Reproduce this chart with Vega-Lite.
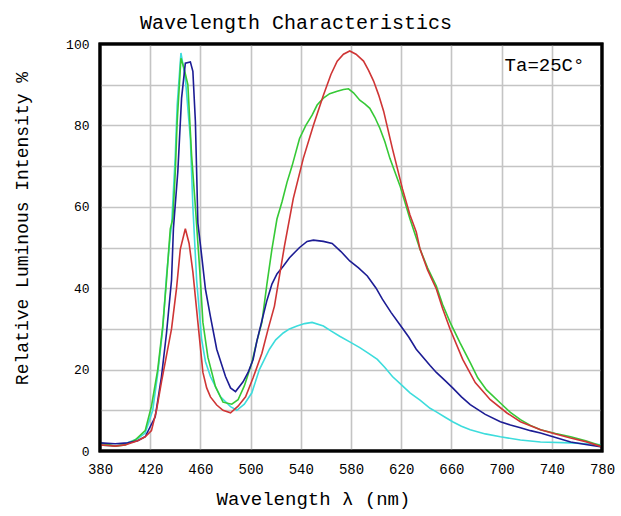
{
  "$schema": "https://vega.github.io/schema/vega-lite/v6.json",
  "width": 502,
  "height": 407,
  "autosize": {"type": "none"},
  "padding": {"left": 100, "top": 44, "right": 19, "bottom": 65},
  "background": "white",
  "view": {"stroke": "black", "strokeWidth": 3},
  "config": {
    "view": {"stroke": "black", "strokeWidth": 3},
    "font": "Liberation Mono"
  },
  "title": {
    "text": "Wavelength Characteristics",
    "font": "Liberation Mono",
    "fontSize": 20,
    "fontWeight": "normal",
    "color": "black",
    "dx": -55,
    "offset": 5
  },
  "datasets": {
    "curves": [
      {"s": "cyan", "x": 380, "y": 1.5}, {"s": "cyan", "x": 392, "y": 1.2}, {"s": "cyan", "x": 400, "y": 1.8}, {"s": "cyan", "x": 410, "y": 3}, {"s": "cyan", "x": 416, "y": 4.4}, {"s": "cyan", "x": 422, "y": 10}, {"s": "cyan", "x": 426, "y": 19}, {"s": "cyan", "x": 430, "y": 30}, {"s": "cyan", "x": 433, "y": 43}, {"s": "cyan", "x": 436, "y": 53}, {"s": "cyan", "x": 437, "y": 55.3}, {"s": "cyan", "x": 440, "y": 72.6}, {"s": "cyan", "x": 441.5, "y": 85}, {"s": "cyan", "x": 444.5, "y": 97.8}, {"s": "cyan", "x": 448, "y": 91.6}, {"s": "cyan", "x": 452, "y": 76.8}, {"s": "cyan", "x": 454, "y": 60}, {"s": "cyan", "x": 457, "y": 42}, {"s": "cyan", "x": 461, "y": 27.4}, {"s": "cyan", "x": 464, "y": 22}, {"s": "cyan", "x": 468, "y": 18.3}, {"s": "cyan", "x": 476, "y": 13.3}, {"s": "cyan", "x": 484, "y": 10.9}, {"s": "cyan", "x": 489, "y": 10}, {"s": "cyan", "x": 495, "y": 11.5}, {"s": "cyan", "x": 501, "y": 14.3}, {"s": "cyan", "x": 507, "y": 20}, {"s": "cyan", "x": 515, "y": 25}, {"s": "cyan", "x": 520, "y": 27.3}, {"s": "cyan", "x": 526, "y": 29}, {"s": "cyan", "x": 531, "y": 30}, {"s": "cyan", "x": 537, "y": 30.7}, {"s": "cyan", "x": 543, "y": 31.3}, {"s": "cyan", "x": 549, "y": 31.6}, {"s": "cyan", "x": 558, "y": 30.7}, {"s": "cyan", "x": 564, "y": 29.5}, {"s": "cyan", "x": 571, "y": 28.2}, {"s": "cyan", "x": 579, "y": 26.8}, {"s": "cyan", "x": 587, "y": 25.4}, {"s": "cyan", "x": 594, "y": 24}, {"s": "cyan", "x": 601, "y": 22.5}, {"s": "cyan", "x": 607, "y": 20.5}, {"s": "cyan", "x": 613, "y": 18.3}, {"s": "cyan", "x": 620, "y": 16.3}, {"s": "cyan", "x": 627, "y": 14.3}, {"s": "cyan", "x": 635, "y": 12.5}, {"s": "cyan", "x": 643, "y": 10.5}, {"s": "cyan", "x": 648, "y": 9.6}, {"s": "cyan", "x": 655, "y": 8.3}, {"s": "cyan", "x": 661, "y": 7.2}, {"s": "cyan", "x": 668, "y": 6.1}, {"s": "cyan", "x": 675, "y": 5.2}, {"s": "cyan", "x": 687, "y": 4.2}, {"s": "cyan", "x": 699, "y": 3.5}, {"s": "cyan", "x": 715, "y": 2.7}, {"s": "cyan", "x": 731, "y": 2.2}, {"s": "cyan", "x": 755, "y": 2}, {"s": "cyan", "x": 767, "y": 1.8}, {"s": "cyan", "x": 780, "y": 1.5},

      {"s": "green", "x": 380, "y": 2}, {"s": "green", "x": 392, "y": 1.2}, {"s": "green", "x": 400, "y": 1.5}, {"s": "green", "x": 408, "y": 2.7}, {"s": "green", "x": 416, "y": 5}, {"s": "green", "x": 421, "y": 11}, {"s": "green", "x": 426, "y": 20}, {"s": "green", "x": 430, "y": 30.7}, {"s": "green", "x": 433, "y": 42}, {"s": "green", "x": 436, "y": 54.6}, {"s": "green", "x": 438, "y": 57}, {"s": "green", "x": 440, "y": 68.6}, {"s": "green", "x": 441.5, "y": 81}, {"s": "green", "x": 444.5, "y": 96.5}, {"s": "green", "x": 447, "y": 94}, {"s": "green", "x": 450, "y": 90}, {"s": "green", "x": 453, "y": 72.6}, {"s": "green", "x": 456, "y": 60}, {"s": "green", "x": 460, "y": 42}, {"s": "green", "x": 462, "y": 31.6}, {"s": "green", "x": 466, "y": 23}, {"s": "green", "x": 472, "y": 15.8}, {"s": "green", "x": 478, "y": 12}, {"s": "green", "x": 485, "y": 11.5}, {"s": "green", "x": 490, "y": 12.6}, {"s": "green", "x": 495, "y": 16}, {"s": "green", "x": 501, "y": 21.7}, {"s": "green", "x": 505, "y": 27}, {"s": "green", "x": 509, "y": 31.6}, {"s": "green", "x": 513, "y": 41}, {"s": "green", "x": 517, "y": 49.6}, {"s": "green", "x": 521, "y": 57}, {"s": "green", "x": 525, "y": 61.2}, {"s": "green", "x": 529, "y": 66}, {"s": "green", "x": 533, "y": 70}, {"s": "green", "x": 539, "y": 76.8}, {"s": "green", "x": 544, "y": 80}, {"s": "green", "x": 549, "y": 82.5}, {"s": "green", "x": 553, "y": 85}, {"s": "green", "x": 558, "y": 86.7}, {"s": "green", "x": 563, "y": 87.8}, {"s": "green", "x": 569, "y": 88.4}, {"s": "green", "x": 574, "y": 88.8}, {"s": "green", "x": 578, "y": 89}, {"s": "green", "x": 582, "y": 88}, {"s": "green", "x": 587, "y": 86.2}, {"s": "green", "x": 591, "y": 85.3}, {"s": "green", "x": 595, "y": 84.2}, {"s": "green", "x": 599, "y": 82}, {"s": "green", "x": 603, "y": 79.3}, {"s": "green", "x": 607, "y": 76}, {"s": "green", "x": 611, "y": 71.9}, {"s": "green", "x": 619, "y": 65.2}, {"s": "green", "x": 627, "y": 57}, {"s": "green", "x": 635, "y": 49.6}, {"s": "green", "x": 641, "y": 45}, {"s": "green", "x": 648, "y": 40.5}, {"s": "green", "x": 653, "y": 36}, {"s": "green", "x": 659, "y": 31.6}, {"s": "green", "x": 667, "y": 26.5}, {"s": "green", "x": 675, "y": 21.7}, {"s": "green", "x": 681, "y": 18}, {"s": "green", "x": 688, "y": 15}, {"s": "green", "x": 699, "y": 11.8}, {"s": "green", "x": 707, "y": 9.5}, {"s": "green", "x": 715, "y": 7.7}, {"s": "green", "x": 723, "y": 6.3}, {"s": "green", "x": 731, "y": 5.2}, {"s": "green", "x": 743, "y": 4.3}, {"s": "green", "x": 755, "y": 3.5}, {"s": "green", "x": 767, "y": 2.5}, {"s": "green", "x": 780, "y": 1.2},

      {"s": "blue", "x": 380, "y": 2}, {"s": "blue", "x": 392, "y": 1.8}, {"s": "blue", "x": 402, "y": 2}, {"s": "blue", "x": 410, "y": 2.5}, {"s": "blue", "x": 416, "y": 3.5}, {"s": "blue", "x": 424, "y": 8.4}, {"s": "blue", "x": 429, "y": 18.3}, {"s": "blue", "x": 433, "y": 29}, {"s": "blue", "x": 437, "y": 42}, {"s": "blue", "x": 438.5, "y": 54.6}, {"s": "blue", "x": 442, "y": 68.6}, {"s": "blue", "x": 445, "y": 86.7}, {"s": "blue", "x": 448, "y": 95.3}, {"s": "blue", "x": 452, "y": 95.6}, {"s": "blue", "x": 454, "y": 93.3}, {"s": "blue", "x": 456, "y": 81}, {"s": "blue", "x": 457, "y": 68.6}, {"s": "blue", "x": 458, "y": 56}, {"s": "blue", "x": 461, "y": 48}, {"s": "blue", "x": 464, "y": 39.8}, {"s": "blue", "x": 468, "y": 33}, {"s": "blue", "x": 473, "y": 25}, {"s": "blue", "x": 480, "y": 18.3}, {"s": "blue", "x": 484, "y": 15.5}, {"s": "blue", "x": 488, "y": 14.6}, {"s": "blue", "x": 494, "y": 17}, {"s": "blue", "x": 498, "y": 19.3}, {"s": "blue", "x": 502, "y": 22.5}, {"s": "blue", "x": 505, "y": 27}, {"s": "blue", "x": 509, "y": 32}, {"s": "blue", "x": 513, "y": 37}, {"s": "blue", "x": 517, "y": 41}, {"s": "blue", "x": 521, "y": 43.5}, {"s": "blue", "x": 526, "y": 45.4}, {"s": "blue", "x": 531, "y": 47.5}, {"s": "blue", "x": 539, "y": 50}, {"s": "blue", "x": 545, "y": 51.5}, {"s": "blue", "x": 550, "y": 51.8}, {"s": "blue", "x": 558, "y": 51.5}, {"s": "blue", "x": 565, "y": 51}, {"s": "blue", "x": 572, "y": 49}, {"s": "blue", "x": 579, "y": 46.7}, {"s": "blue", "x": 586, "y": 45}, {"s": "blue", "x": 593, "y": 43}, {"s": "blue", "x": 600, "y": 40}, {"s": "blue", "x": 605, "y": 37.3}, {"s": "blue", "x": 612, "y": 34}, {"s": "blue", "x": 619, "y": 31}, {"s": "blue", "x": 626, "y": 28}, {"s": "blue", "x": 632, "y": 25}, {"s": "blue", "x": 643, "y": 21}, {"s": "blue", "x": 648, "y": 19.3}, {"s": "blue", "x": 655, "y": 17.3}, {"s": "blue", "x": 661, "y": 15.5}, {"s": "blue", "x": 668, "y": 13.3}, {"s": "blue", "x": 675, "y": 11.4}, {"s": "blue", "x": 687, "y": 9}, {"s": "blue", "x": 699, "y": 7.2}, {"s": "blue", "x": 707, "y": 6.4}, {"s": "blue", "x": 715, "y": 5.7}, {"s": "blue", "x": 723, "y": 5}, {"s": "blue", "x": 731, "y": 4.4}, {"s": "blue", "x": 743, "y": 3.3}, {"s": "blue", "x": 755, "y": 2.2}, {"s": "blue", "x": 767, "y": 1.6}, {"s": "blue", "x": 780, "y": 1},

      {"s": "red", "x": 380, "y": 1.5}, {"s": "red", "x": 392, "y": 1.2}, {"s": "red", "x": 400, "y": 1.5}, {"s": "red", "x": 410, "y": 2.5}, {"s": "red", "x": 416, "y": 3.5}, {"s": "red", "x": 421, "y": 5}, {"s": "red", "x": 425, "y": 10}, {"s": "red", "x": 429, "y": 17}, {"s": "red", "x": 433, "y": 23.5}, {"s": "red", "x": 437, "y": 30}, {"s": "red", "x": 441, "y": 40}, {"s": "red", "x": 444, "y": 49.6}, {"s": "red", "x": 448, "y": 54.6}, {"s": "red", "x": 451, "y": 51}, {"s": "red", "x": 454, "y": 44}, {"s": "red", "x": 458, "y": 31.6}, {"s": "red", "x": 462, "y": 19.3}, {"s": "red", "x": 465, "y": 15.5}, {"s": "red", "x": 468, "y": 13.3}, {"s": "red", "x": 473, "y": 11.3}, {"s": "red", "x": 478, "y": 10}, {"s": "red", "x": 484, "y": 9.4}, {"s": "red", "x": 490, "y": 11}, {"s": "red", "x": 496, "y": 13.3}, {"s": "red", "x": 502, "y": 18}, {"s": "red", "x": 509, "y": 24}, {"s": "red", "x": 514, "y": 30}, {"s": "red", "x": 519, "y": 35.6}, {"s": "red", "x": 523, "y": 43}, {"s": "red", "x": 527, "y": 50.4}, {"s": "red", "x": 534, "y": 62}, {"s": "red", "x": 542, "y": 71.9}, {"s": "red", "x": 550, "y": 80}, {"s": "red", "x": 558, "y": 87.4}, {"s": "red", "x": 564, "y": 92.5}, {"s": "red", "x": 569, "y": 95.8}, {"s": "red", "x": 574, "y": 97.5}, {"s": "red", "x": 579, "y": 98.3}, {"s": "red", "x": 584, "y": 97.5}, {"s": "red", "x": 590, "y": 95.8}, {"s": "red", "x": 594, "y": 93.5}, {"s": "red", "x": 598, "y": 90.9}, {"s": "red", "x": 602, "y": 87.5}, {"s": "red", "x": 606, "y": 83.5}, {"s": "red", "x": 613, "y": 74.3}, {"s": "red", "x": 621, "y": 64.4}, {"s": "red", "x": 627, "y": 58}, {"s": "red", "x": 632, "y": 53.8}, {"s": "red", "x": 635, "y": 49.6}, {"s": "red", "x": 641, "y": 44.5}, {"s": "red", "x": 648, "y": 39.8}, {"s": "red", "x": 653, "y": 35}, {"s": "red", "x": 659, "y": 29.9}, {"s": "red", "x": 669, "y": 22.5}, {"s": "red", "x": 679, "y": 16.8}, {"s": "red", "x": 691, "y": 12.6}, {"s": "red", "x": 704, "y": 9.4}, {"s": "red", "x": 715, "y": 7.2}, {"s": "red", "x": 731, "y": 5.2}, {"s": "red", "x": 743, "y": 4.2}, {"s": "red", "x": 755, "y": 3.2}, {"s": "red", "x": 767, "y": 2.3}, {"s": "red", "x": 780, "y": 1}
    ],
    "note": [{"x": 766, "y": 94.8, "t": "Ta=25C°"}],
    "frame": [{"x0": 380, "x1": 780, "y0": 0, "y1": 100}]
  },
  "layer": [
    {
      "data": {"name": "curves"},
      "mark": {"type": "line", "strokeWidth": 1.6, "clip": true},
      "encoding": {
        "x": {
          "field": "x", "type": "quantitative",
          "scale": {"domain": [380, 780], "nice": false, "zero": false},
          "axis": {
            "values": [380, 420, 460, 500, 540, 580, 620, 660, 700, 740, 780],
            "title": "Wavelength λ (nm)",
            "titleFont": "Liberation Mono", "titleFontSize": 19, "titleFontWeight": "normal", "titleColor": "black",
            "titleX": 213, "titleY": 47, "titleBaseline": "middle", "titleAlign": "center",
            "labelFont": "Liberation Mono", "labelFontSize": 14, "labelColor": "black", "labelPadding": 11,
            "labelOverlap": false, "labelFlush": false,
            "grid": true, "gridColor": "#c4c4c4", "gridWidth": 1.6,
            "ticks": false, "domain": false
          }
        },
        "y": {
          "field": "y", "type": "quantitative",
          "scale": {"domain": [0, 100], "nice": false},
          "axis": {
            "values": [0, 10, 20, 30, 40, 50, 60, 70, 80, 90, 100],
            "labelExpr": "datum.value % 20 == 0 ? datum.label : ''",
            "title": "Relative Luminous Intensity %",
            "titleFont": "Liberation Mono", "titleFontSize": 18, "titleFontWeight": "normal", "titleColor": "black",
            "titleX": -78, "titleY": 184, "titleBaseline": "middle", "titleAlign": "center", "titleAngle": -90,
            "labelFont": "Liberation Mono", "labelFontSize": 13, "labelColor": "black", "labelPadding": 11,
            "labelOverlap": false, "labelFlush": false,
            "grid": true, "gridColor": "#c4c4c4", "gridWidth": 1.6,
            "ticks": false, "domain": false
          }
        },
        "color": {
          "field": "s", "type": "nominal",
          "scale": {"domain": ["cyan", "green", "blue", "red"], "range": ["#3ddcdc", "#36c936", "#1c1c94", "#cf3535"]},
          "legend": null
        }
      }
    },
    {
      "data": {"name": "frame"},
      "mark": {"type": "rect", "fill": null, "fillOpacity": 0, "stroke": "black", "strokeWidth": 3},
      "encoding": {
        "x": {"field": "x0", "type": "quantitative"},
        "x2": {"field": "x1"},
        "y": {"field": "y0", "type": "quantitative"},
        "y2": {"field": "y1"}
      }
    },
    {
      "data": {"name": "note"},
      "mark": {"type": "text", "align": "right", "baseline": "middle", "font": "Liberation Mono", "fontSize": 19, "color": "black"},
      "encoding": {
        "x": {"field": "x", "type": "quantitative"},
        "y": {"field": "y", "type": "quantitative"},
        "text": {"field": "t"}
      }
    }
  ]
}
